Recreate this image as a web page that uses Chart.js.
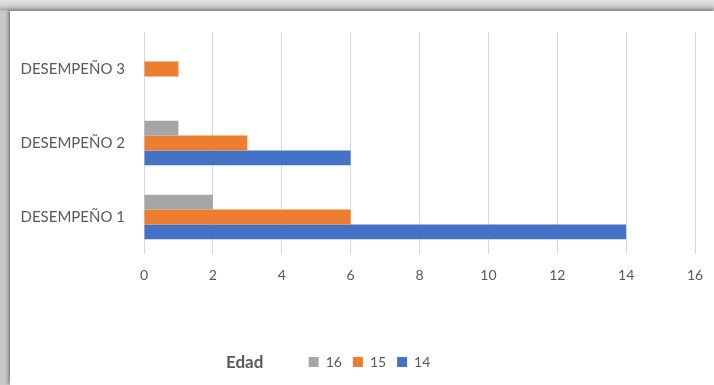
<!DOCTYPE html>
<html>
<head>
<meta charset="utf-8">
<script src="https://cdn.jsdelivr.net/npm/chart.js@4"></script>
<style>
  html, body { margin: 0; padding: 0; background: #c8c8c8; }
  body { width: 714px; height: 385px; position: relative; overflow: hidden;
         background: linear-gradient(to bottom, #e4e4e4 0px, #cfcfcf 6px, #a9a9a9 10px, #c8c8c8 11px); }
  #frame { position: absolute; left: 10px; top: 11px; width: 704px; height: 374px; background: #fff;
           box-shadow: -2px -1px 3px rgba(0,0,0,0.35); }
  #wrap { position: absolute; left: 0; top: 0; width: 714px; height: 385px; }
  #edad { position: absolute; left: 226px; top: 351px; font: bold 17px Lato, sans-serif; color: #595959; }
</style>
</head>
<body>
<div id="frame"></div>
<div id="wrap"><canvas id="chart"></canvas></div>
<span id="edad">Edad</span>
<script>
// categories listed top to bottom as they appear
const categories = ["DESEMPEÑO 3", "DESEMPEÑO 2", "DESEMPEÑO 1"];
const edad16 = [0, 1, 2];
const edad15 = [1, 3, 6];
const edad14 = [0, 6, 14];
const xTicks = [0, 2, 4, 6, 8, 10, 12, 14, 16];

const textColor = "#595959";
Chart.defaults.font.family = "Lato, sans-serif";
Chart.defaults.color = textColor;

// move the legend a bit right, it sits off-centre in the original
const legendShift = {
  id: "legendShift",
  afterLayout(chart) {
    chart.legend.left += 22;
    chart.legend.right += 22;
  }
};

const ctx = document.getElementById("chart");

new Chart(ctx, {
  type: "bar",
  data: {
    labels: categories,
    datasets: [
      { label: "16", data: edad16, backgroundColor: "#A5A5A5" },
      { label: "15", data: edad15, backgroundColor: "#ED7D31" },
      { label: "14", data: edad14, backgroundColor: "#4472C4" }
    ]
  },
  options: {
    indexAxis: "y",
    responsive: true,
    maintainAspectRatio: false,
    animation: false,
    categoryPercentage: 0.604,
    barPercentage: 1,
    layout: { padding: { top: 32, left: 0, right: 19, bottom: 6 } },
    plugins: {
      legend: {
        position: "bottom",
        labels: { boxWidth: 10, boxHeight: 10, padding: 11, font: { size: 14 }, color: textColor }
      },
      tooltip: { enabled: false }
    },
    scales: {
      x: {
        min: 0,
        max: 16,
        afterBuildTicks: (scale) => { scale.ticks = xTicks.map(v => ({ value: v })); },
        afterFit: (scale) => {
          scale.height = 90;
          scale.paddingRight = 0;
          scale.paddingLeft = 0;
        },
        ticks: { font: { size: 14 }, padding: 13, color: textColor },
        grid: { color: "#D9D9D9", tickLength: 0, drawTicks: false },
        border: { display: false }
      },
      y: {
        afterFit: (scale) => { scale.width = 144; },
        ticks: { font: { size: 15 }, padding: 11, color: textColor },
        grid: { display: false },
        border: { display: false }
      }
    }
  },
  plugins: [legendShift]
});
</script>
</body>
</html>
